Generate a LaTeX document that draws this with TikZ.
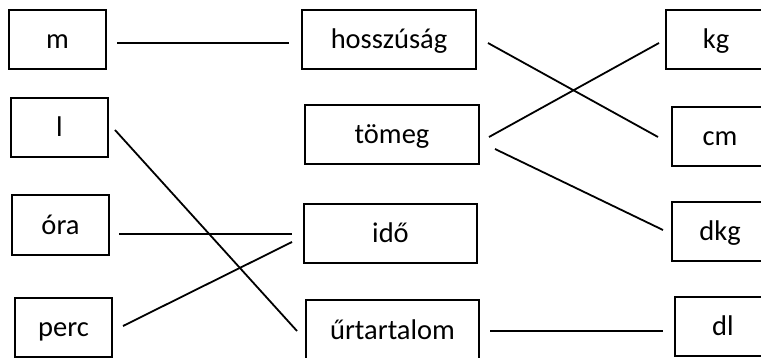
\documentclass[tikz,border=0pt]{standalone}
\usepackage{fontspec}
\setmainfont{Carlito}
\tikzset{
  box/.style={draw=black, line width=1.8pt, inner sep=0pt, text height=20pt, text depth=1pt,
    font=\fontsize{28.5}{34}\selectfont},
  link/.style={draw=black, line width=1.8pt}
}
\begin{document}
\begin{tikzpicture}[x=1pt,y=-1pt]
\useasboundingbox (0,0) rectangle (761,358);
% left column
\node[box, minimum width=97pt, minimum height=59pt] (m) at (57.5,39.5) {m};
\node[box, minimum width=97pt, minimum height=59pt] (l) at (59.5,127.5) {l};
\node[box, minimum width=97pt, minimum height=60pt] (ora) at (60.5,225) {óra};
\node[box, minimum width=97pt, minimum height=59pt] (perc) at (63.5,327.5) {perc};
% middle column
\node[box, minimum width=174pt, minimum height=59pt] (hossz) at (389,39.5) {hosszúság};
\node[box, minimum width=174pt, minimum height=59pt] (tomeg) at (392,134.5) {tömeg};
\node[box, minimum width=173pt, minimum height=59pt] (ido) at (390.5,233.5) {idő};
\node[box, minimum width=173pt, minimum height=59pt] (urt) at (392.5,329.5) {űrtartalom};
% right column
\node[box, minimum width=100pt, minimum height=59pt] (kg) at (716,39.5) {kg};
\node[box, minimum width=96pt, minimum height=59pt] (cm) at (720,136.5) {cm};
\node[box, minimum width=96pt, minimum height=59pt] (dkg) at (720,231.5) {dkg};
\node[box, minimum width=96pt, minimum height=59pt] (dl) at (723,326.5) {dl};
% connector ends
\coordinate (m-e) at (117,43);
\coordinate (hossz-w) at (289,43);
\coordinate (l-e) at (115,130);
\coordinate (urt-w) at (297,331);
\coordinate (hossz-e) at (488,43);
\coordinate (cm-w) at (658,137);
\coordinate (tomeg-e1) at (489,137);
\coordinate (kg-w) at (659,43);
\coordinate (tomeg-e2) at (495,149);
\coordinate (dkg-w) at (663,230);
\coordinate (ora-e) at (119,234);
\coordinate (ido-w1) at (292,234);
\coordinate (perc-e) at (123,326);
\coordinate (ido-w2) at (292,242);
\coordinate (urt-e) at (490,331);
\coordinate (dl-w) at (663,331);
% connectors
\draw[link] (m-e) -- (hossz-w);
\draw[link] (l-e) -- (urt-w);
\draw[link] (hossz-e) -- (cm-w);
\draw[link] (tomeg-e1) -- (kg-w);
\draw[link] (tomeg-e2) -- (dkg-w);
\draw[link] (ora-e) -- (ido-w1);
\draw[link] (perc-e) -- (ido-w2);
\draw[link] (urt-e) -- (dl-w);
\end{tikzpicture}
\end{document}
